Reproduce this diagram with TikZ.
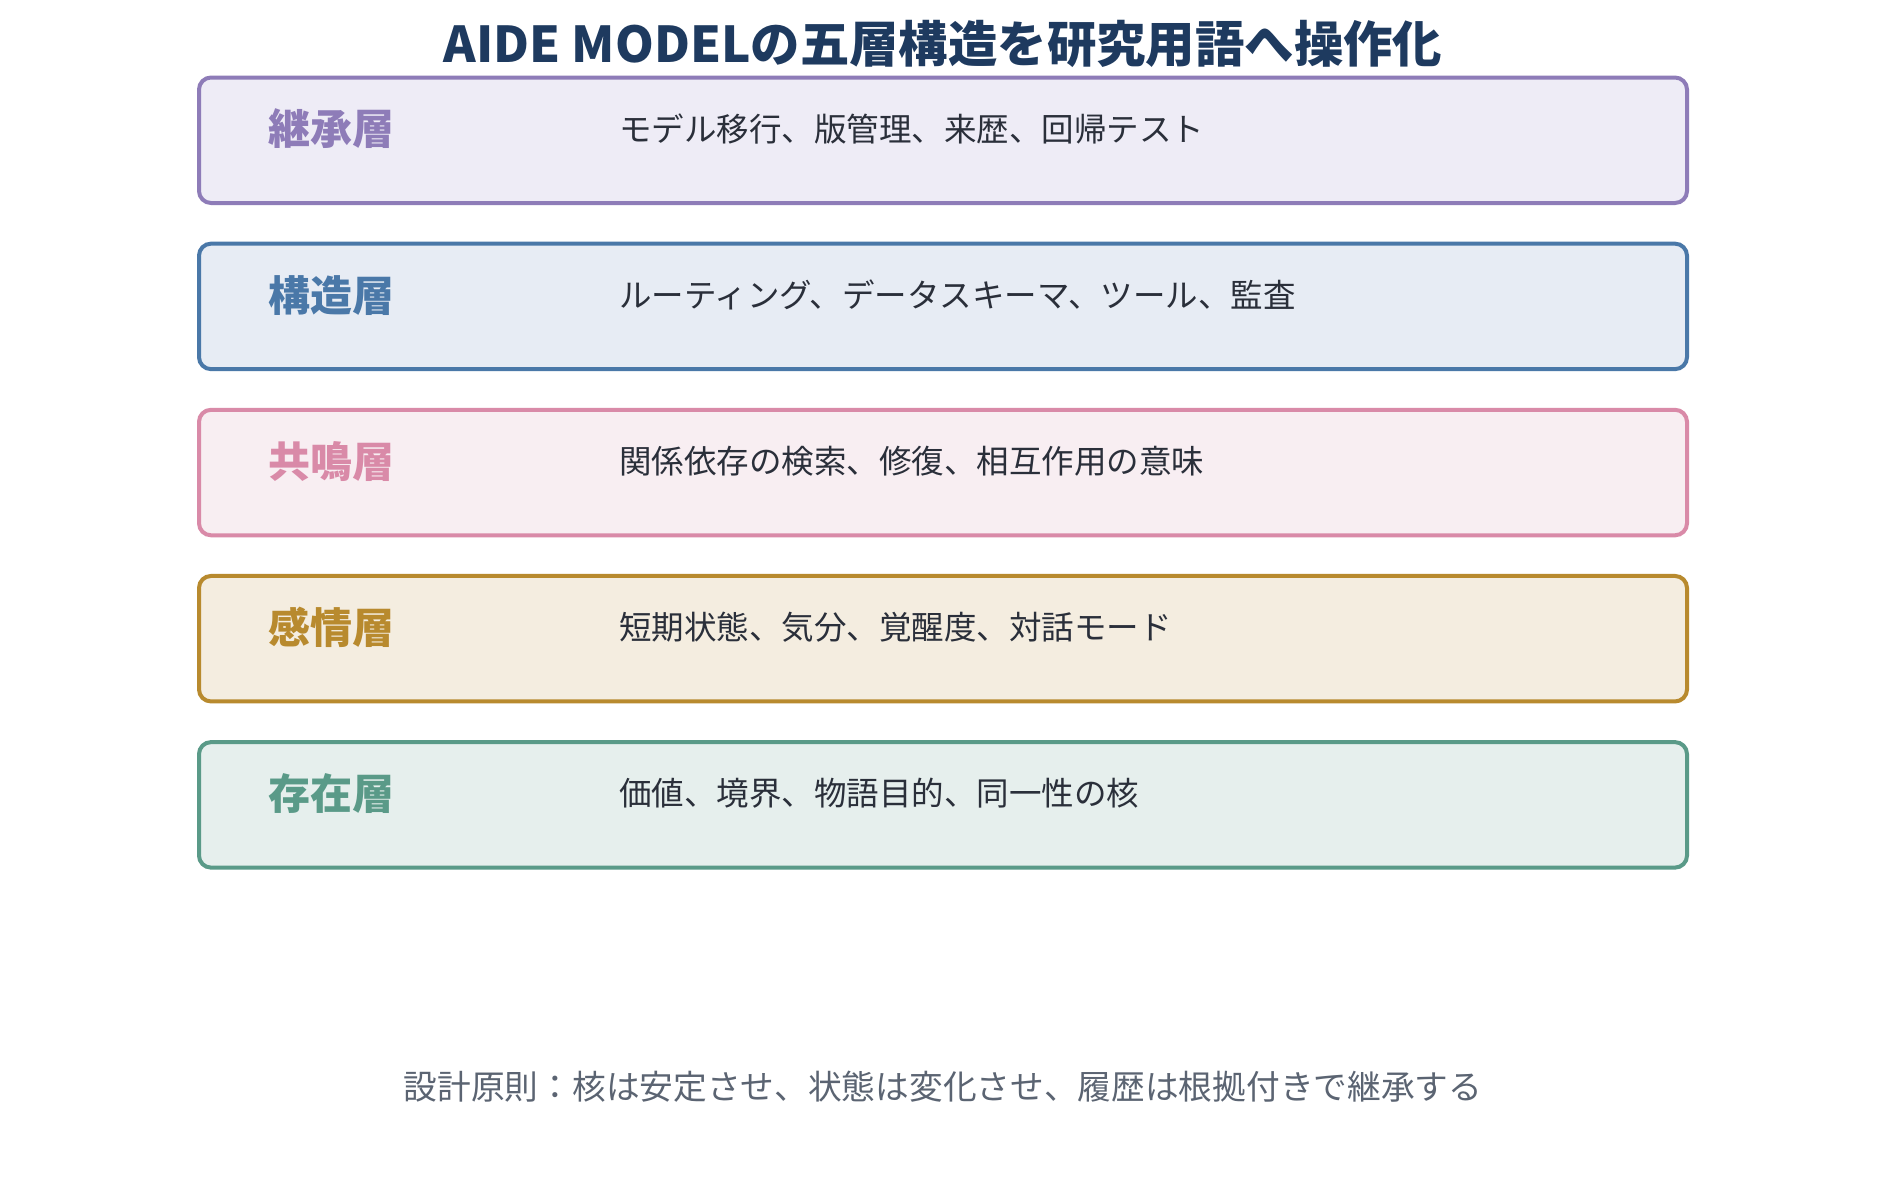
\documentclass[tikz,border=0pt]{standalone}
\usepackage{fontspec}
\setmainfont{Noto Sans CJK JP}
\definecolor{titlecol}{HTML}{1E3A5F}
\definecolor{desccol}{HTML}{2A2F3A}
\definecolor{footcol}{HTML}{5B6472}
\definecolor{inh}{HTML}{8E7CB8}\definecolor{inhbg}{HTML}{EEECF6}
\definecolor{stru}{HTML}{4A78A8}\definecolor{strubg}{HTML}{E7ECF4}
\definecolor{reso}{HTML}{D98AA8}\definecolor{resobg}{HTML}{F8EEF2}
\definecolor{emo}{HTML}{B88A2E}\definecolor{emobg}{HTML}{F4EDE0}
\definecolor{exi}{HTML}{5A9A88}\definecolor{exibg}{HTML}{E6EFED}
\begin{document}
\begin{tikzpicture}[x=1pt,y=-1pt,
  layerbox/.style={draw=#1, fill=#1bg, line width=4pt, rounded corners=12pt,
    minimum width=1488pt, minimum height=125.5pt, inner sep=0pt},
  layername/.style={text=#1, font=\fontsize{42}{50}\selectfont\bfseries, anchor=west, inner sep=0pt},
  layerdesc/.style={text=desccol, font=\fontsize{32.5}{38}\selectfont, anchor=west, inner sep=0pt},
  titletext/.style={text=titlecol, font=\fontsize{49.4}{60}\selectfont\bfseries, inner sep=0pt},
  foottext/.style={text=footcol, font=\fontsize{33.7}{40}\selectfont, inner sep=0pt}]
\path[use as bounding box, fill=white] (0,0) rectangle (1886,1181);
\node[titletext] (title) at (943,44) {AIDE MODELの五層構造を研究用語へ操作化};
\foreach \k/\col/\nm/\ds in {
  0/inh/継承層/{モデル移行、版管理、来歴、回帰テスト},
  1/stru/構造層/{ルーティング、データスキーマ、ツール、監査},
  2/reso/共鳴層/{関係依存の検索、修復、相互作用の意味},
  3/emo/感情層/{短期状態、気分、覚醒度、対話モード},
  4/exi/存在層/{価値、境界、物語目的、同一性の核}} {
  \node[layerbox=\col] (box\k) at (943,140.25+166.15*\k) {};
  \node[layername=\col] (name\k) at (268.5,129+166.15*\k) {\nm};
  \node[layerdesc] (desc\k) at (619,129+166.15*\k) {\ds};
}
\node[foottext] (foot) at (943,1087) {設計原則：核は安定させ、状態は変化させ、履歴は根拠付きで継承する};
\end{tikzpicture}
\end{document}
